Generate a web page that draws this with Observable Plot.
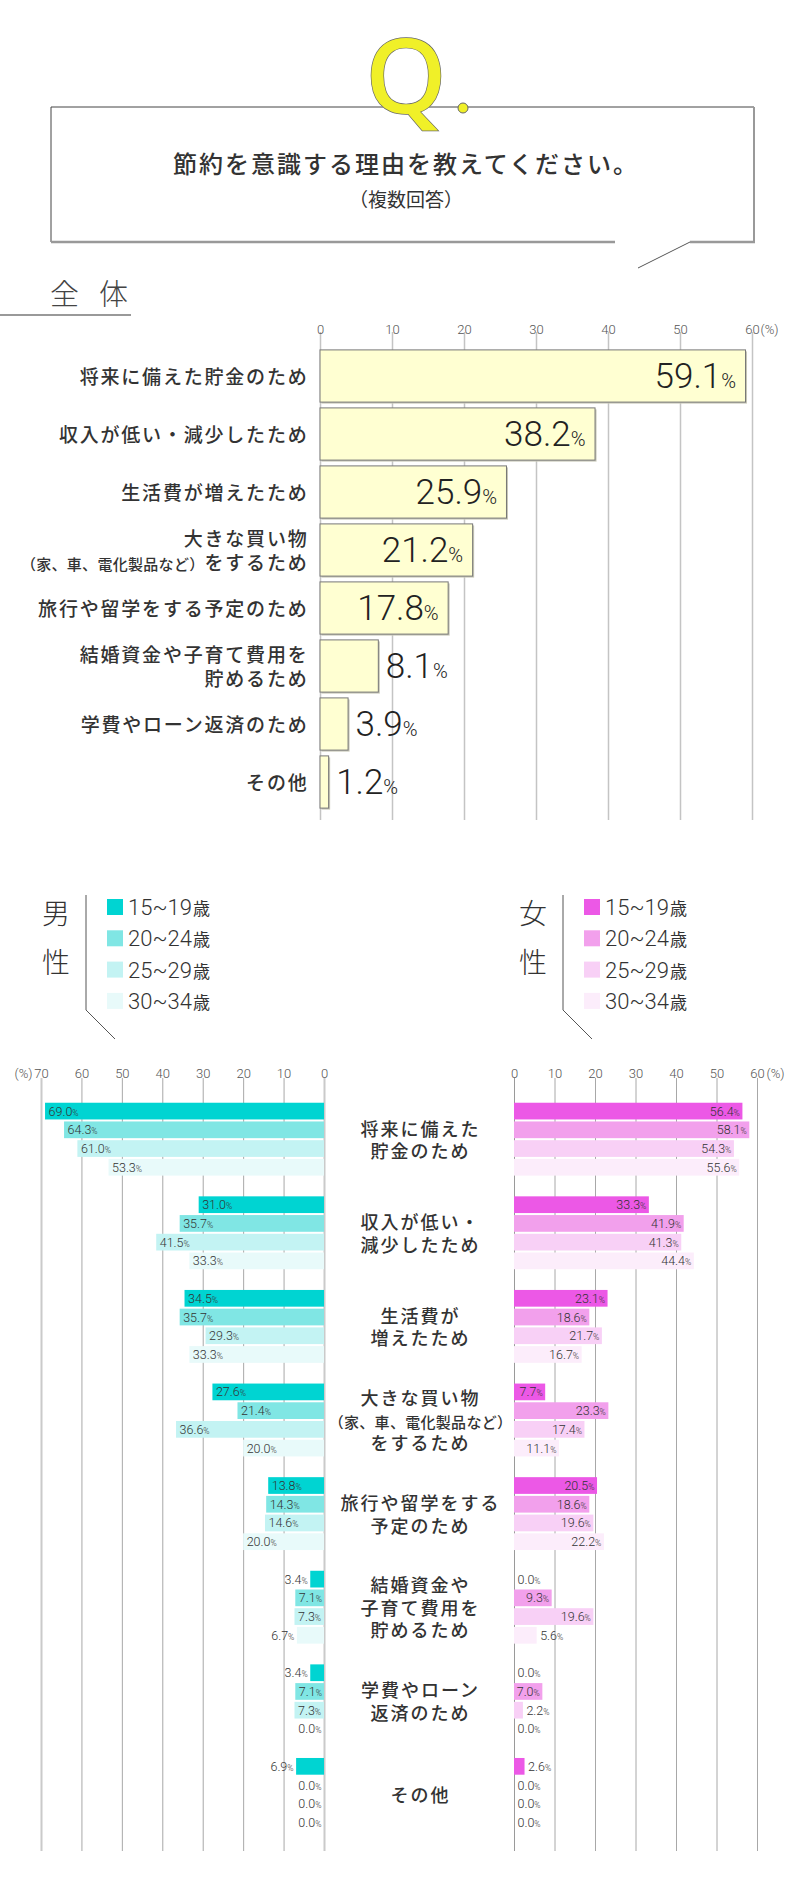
<!DOCTYPE html>
<html><head><meta charset="utf-8">
<script src="https://cdn.jsdelivr.net/npm/d3@7"></script>
<script src="https://cdn.jsdelivr.net/npm/@observablehq/plot@0.6"></script>
<style>
body{margin:0;background:#fff;}
#page{position:relative;width:800px;height:1880px;font-family:"Noto Sans CJK JP",sans-serif;color:#333;overflow:hidden;background:#fff;}
#page > svg, #page > div{position:absolute;}
</style></head><body><div id="page"></div>
<script>
// ---------- data ----------
const categories = ["将来に備えた貯金のため","収入が低い・減少したため","生活費が増えたため","大きな買い物（家、車、電化製品など）をするため","旅行や留学をする予定のため","結婚資金や子育て費用を貯めるため","学費やローン返済のため","その他"];
const overallLabels = ["将来に備えた貯金のため","収入が低い・減少したため","生活費が増えたため","大きな買い物\n（家、車、電化製品など）をするため","旅行や留学をする予定のため","結婚資金や子育て費用を\n貯めるため","学費やローン返済のため","その他"];
const genderLabels = ["将来に備えた\n貯金のため","収入が低い・\n減少したため","生活費が\n増えたため","大きな買い物\n（家、車、電化製品など）\nをするため","旅行や留学をする\n予定のため","結婚資金や\n子育て費用を\n貯めるため","学費やローン\n返済のため","その他"];
const overallValues = [59.1,38.2,25.9,21.2,17.8,8.1,3.9,1.2];
const ageGroups = ["15~19","20~24","25~29","30~34"];
const male_15_19 = [69.0,31.0,34.5,27.6,13.8,3.4,3.4,6.9];
const male_20_24 = [64.3,35.7,35.7,21.4,14.3,7.1,7.1,0.0];
const male_25_29 = [61.0,41.5,29.3,36.6,14.6,7.3,7.3,0.0];
const male_30_34 = [53.3,33.3,33.3,20.0,20.0,6.7,0.0,0.0];
const female_15_19 = [56.4,33.3,23.1,7.7,20.5,0.0,0.0,2.6];
const female_20_24 = [58.1,41.9,18.6,23.3,18.6,9.3,7.0,0.0];
const female_25_29 = [54.3,41.3,21.7,17.4,19.6,19.6,2.2,0.0];
const female_30_34 = [55.6,44.4,16.7,11.1,22.2,5.6,0.0,0.0];
const maleColors = ["#00d4d2","#80e6e4","#c3f3f3","#e8fafa"];
const femaleColors = ["#ec58e6","#f2a0ec","#f8d0f6","#fcedfb"];
const overallTicks = [0,10,20,30,40,50,60];
const maleTicks = [0,10,20,30,40,50,60,70];
const femaleTicks = [0,10,20,30,40,50,60];
const titleText = "節約を意識する理由を教えてください。";
const subtitleText = "（複数回答）";

// ---------- helpers ----------
const page = d3.select("#page");
const JP = "Noto Sans CJK JP, sans-serif";
const NUM = "Roboto, Noto Sans, sans-serif";
function place(svg, left, top){ svg.style.left = left+"px"; svg.style.top = top+"px"; page.node().appendChild(svg); }
function textGroup(svg, i){ return d3.select(d3.select(svg).selectAll('g[aria-label="text"]').nodes()[i]); }
function addPct(svg, i, size){ textGroup(svg,i).selectAll("text").append("tspan").attr("font-size", size).text("%"); }
function shrinkParen(svg, i, size){
  textGroup(svg,i).selectAll("text, tspan").each(function(){
    if (this.childElementCount === 0 && this.textContent.startsWith("（")) {
      const t = this.textContent, k = t.indexOf("）") + 1;
      const s = d3.select(this); s.text("");
      s.append("tspan").attr("font-size", size).attr("letter-spacing", 0.3).text(t.slice(0,k));
      if (k < t.length) s.append("tspan").text(t.slice(k));
    }
  });
}

// ---------- header (decoration) ----------
const head = page.append("svg").attr("width",800).attr("height",330).style("left","0px").style("top","0px");
head.append("path").attr("d","M51,107H754").attr("stroke","#444").attr("fill","none");
head.append("path").attr("d","M51,107V242").attr("stroke","#444").attr("fill","none");
head.append("path").attr("d","M754,107V242").attr("stroke","#999").attr("stroke-width",2).attr("fill","none");
head.append("path").attr("d","M51,242H615M690,242H755").attr("stroke","#999").attr("stroke-width",2.5).attr("fill","none");
head.append("path").attr("d","M690,242L638,268").attr("stroke","#555").attr("fill","none");
head.append("ellipse").attr("cx",406).attr("cy",76).attr("rx",37).attr("ry",40).attr("fill","#fff");
head.append("text").attr("x",406).attr("y",113).attr("text-anchor","middle").attr("font-size",104).attr("font-weight",500)
  .attr("font-family","Noto Sans, sans-serif").attr("fill","#f0f028").attr("stroke","#666").attr("stroke-width",1.4)
  .attr("paint-order","stroke").text("Q");
head.append("circle").attr("cx",463).attr("cy",108).attr("r",5).attr("fill","#f0f028").attr("stroke","#666").attr("stroke-width",1);
head.append("text").attr("x",406).attr("y",162).attr("text-anchor","middle").attr("dominant-baseline","central")
  .attr("font-size",24).attr("font-weight",500).attr("letter-spacing",2).attr("fill","#333").attr("font-family",JP).text(titleText);
head.append("text").attr("x",406).attr("y",198).attr("text-anchor","middle").attr("dominant-baseline","central")
  .attr("font-size",19).attr("fill","#333").attr("font-family",JP).text(subtitleText);
head.append("text").attr("x",50).attr("y",292).attr("dominant-baseline","central")
  .attr("font-size",29).attr("font-weight",300).attr("letter-spacing",20).attr("fill","#444").attr("font-family",JP).text("全体");
head.append("path").attr("d","M0,315H131").attr("stroke","#999").attr("stroke-width",2);

// ---------- overall chart ----------
const overall = categories.map((c,i)=>({cat:c, label:overallLabels[i], value:overallValues[i]}));
const p1 = Plot.plot({
  width:800, height:520, marginTop:32, marginBottom:0, marginLeft:320, marginRight:48,
  style:{background:"transparent", overflow:"visible"},
  x:{domain:[0,60], range:[320,752], axis:null},
  y:{type:"band", domain:categories, range:[47,511], paddingInner:0.1, paddingOuter:0.05, round:false, axis:null},
  marks:[
    Plot.ruleX(overallTicks, {x:d=>d, stroke:"#c4c4c4", strokeWidth:1.5}),
    Plot.text(overallTicks, {x:d=>d, frameAnchor:"top", dy:-8, text:d=>String(d), fontSize:13, fill:"#555", fontFamily:NUM, fontWeight:300}),
    Plot.text([60], {x:d=>d, frameAnchor:"top", dy:-8, dx:8, textAnchor:"start", text:()=>"(%)", fontSize:13, fill:"#555", fontFamily:NUM, fontWeight:300}),
    Plot.barX(overall, {x:"value", y:"cat", fill:"#c8c8b8", dx:1.5, dy:1.5}),
    Plot.barX(overall, {x:"value", y:"cat", fill:"#ffffd2", stroke:"#777", strokeWidth:1}),
    Plot.text(overall.filter(d=>d.value>=10), {x:"value", y:"cat", text:d=>d.value.toFixed(1), textAnchor:"end", dx:-10,
      fontSize:35, fontFamily:NUM, fontWeight:300, fill:"#222"}),
    Plot.text(overall.filter(d=>d.value<10), {x:"value", y:"cat", text:d=>d.value.toFixed(1), textAnchor:"start", dx:7,
      fontSize:35, fontFamily:NUM, fontWeight:300, fill:"#222"}),
    Plot.text(overall, {x:0, y:"cat", text:"label", textAnchor:"end", dx:-12, fontSize:19, lineHeight:1.25,
      fill:"#333", fontFamily:JP, fontWeight:500})
  ]
});
addPct(p1,2,20); addPct(p1,3,20);
textGroup(p1,4).attr("letter-spacing",1.8);
shrinkParen(p1,4,15);
place(p1,0,300);

// ---------- legends ----------
const leg = page.append("svg").attr("width",800).attr("height",180).style("left","0px").style("top","880px");
function legend(dx, g1, g2, colors){
  leg.append("text").attr("x",56+dx).attr("y",32).attr("text-anchor","middle").attr("dominant-baseline","central")
    .attr("font-size",28).attr("font-weight",300).attr("fill","#333").attr("font-family",JP).text(g1);
  leg.append("text").attr("x",56+dx).attr("y",81).attr("text-anchor","middle").attr("dominant-baseline","central")
    .attr("font-size",28).attr("font-weight",300).attr("fill","#333").attr("font-family",JP).text(g2);
  leg.append("path").attr("d",`M${86+dx},15V130L${115+dx},159`).attr("stroke","#555").attr("fill","none");
  ageGroups.forEach((a,j)=>{
    const cy = 27 + j*31.3;
    leg.append("rect").attr("x",107+dx).attr("y",cy-8).attr("width",16).attr("height",16).attr("fill",colors[j]);
    const t = leg.append("text").attr("x",128+dx).attr("y",cy).attr("dominant-baseline","central").attr("fill","#333");
    t.append("tspan").attr("font-size",22).attr("font-family",NUM).attr("font-weight",300).text(a);
    t.append("tspan").attr("font-size",17).attr("font-family",JP).attr("dx",1).text("歳");
  });
}
legend(0,"男","性",maleColors);
legend(477,"女","性",femaleColors);

// ---------- gender charts ----------
const keys = [];
categories.forEach((c,i)=>{ ageGroups.forEach(a=>keys.push(c+"|"+a)); if(i<categories.length-1) keys.push(c+"|gap"); });
const maleSeries = [male_15_19,male_20_24,male_25_29,male_30_34];
const femaleSeries = [female_15_19,female_20_24,female_25_29,female_30_34];
const rows = s => categories.flatMap((c,i)=>ageGroups.map((a,j)=>({cat:c, age:a, key:c+"|"+a, value:s[j][i]})));
const maleData = rows(maleSeries), femaleData = rows(femaleSeries);
const genderRows = categories.map((c,i)=>({cat:c, label:genderLabels[i]}));
const yG = {type:"band", domain:keys, range:[61.8,791.8], paddingInner:0.107, paddingOuter:0.05, round:false, axis:null};
const fmt = d=>d.value.toFixed(1);

const pm = Plot.plot({
  width:800, height:811, marginTop:38, marginBottom:0, marginLeft:41, marginRight:476,
  style:{background:"transparent", overflow:"visible"},
  x:{domain:[0,70], range:[324,41], axis:null},
  y:yG,
  color:{domain:ageGroups, range:maleColors},
  marks:[
    Plot.ruleX(maleTicks.filter(d=>d>0&&d<70), {x:d=>d, stroke:"#a8a8a8", strokeWidth:1}),
    Plot.ruleX([0,70], {x:d=>d, stroke:"#cacaca", strokeWidth:2}),
    Plot.text(maleTicks, {x:d=>d, frameAnchor:"top", dy:-10, text:d=>String(d), fontSize:13, fill:"#555", fontFamily:NUM, fontWeight:300}),
    Plot.text([70], {x:d=>d, frameAnchor:"top", dy:-10, dx:-9, textAnchor:"end", text:()=>"(%)", fontSize:13, fill:"#555", fontFamily:NUM, fontWeight:300}),
    Plot.barX(maleData, {x:"value", y:"key", fill:"age"}),
    Plot.text(maleData.filter(d=>d.value>=7), {x:"value", y:"key", text:fmt, textAnchor:"start", dx:3, fontSize:12.5, fill:"#333", fontFamily:NUM, fontWeight:300}),
    Plot.text(maleData.filter(d=>d.value<7), {x:"value", y:"key", text:fmt, textAnchor:"end", dx:-3, fontSize:12.5, fill:"#333", fontFamily:NUM, fontWeight:300}),
    Plot.text(genderRows, {y:d=>d.cat+"|"+ageGroups[1], frameAnchor:"right", dx:96, dy:9.35, text:"label", textAnchor:"middle",
      fontSize:18, lineHeight:1.25, fill:"#333", fontFamily:JP, fontWeight:500})
  ]
});
addPct(pm,2,8.5); addPct(pm,3,8.5);
textGroup(pm,4).attr("letter-spacing",2);
shrinkParen(pm,4,15);
place(pm,0,1040);

const pf = Plot.plot({
  width:800, height:811, marginTop:38, marginBottom:0, marginLeft:514, marginRight:43,
  style:{background:"transparent", overflow:"visible"},
  x:{domain:[0,60], range:[514,757], axis:null},
  y:yG,
  color:{domain:ageGroups, range:femaleColors},
  marks:[
    Plot.ruleX(femaleTicks.filter(d=>d>0), {x:d=>d, stroke:"#a8a8a8", strokeWidth:1}),
    Plot.ruleX([0], {x:d=>d, stroke:"#9a9a9a", strokeWidth:1}),
    Plot.text(femaleTicks, {x:d=>d, frameAnchor:"top", dy:-10, text:d=>String(d), fontSize:13, fill:"#555", fontFamily:NUM, fontWeight:300}),
    Plot.text([60], {x:d=>d, frameAnchor:"top", dy:-10, dx:9, textAnchor:"start", text:()=>"(%)", fontSize:13, fill:"#555", fontFamily:NUM, fontWeight:300}),
    Plot.barX(femaleData, {x:"value", y:"key", fill:"age"}),
    Plot.text(femaleData.filter(d=>d.value>=7), {x:"value", y:"key", text:fmt, textAnchor:"end", dx:-3, fontSize:12.5, fill:"#333", fontFamily:NUM, fontWeight:300}),
    Plot.text(femaleData.filter(d=>d.value<7), {x:"value", y:"key", text:fmt, textAnchor:"start", dx:3, fontSize:12.5, fill:"#333", fontFamily:NUM, fontWeight:300})
  ]
});
addPct(pf,2,8.5); addPct(pf,3,8.5);
place(pf,0,1040);
</script></body></html>
